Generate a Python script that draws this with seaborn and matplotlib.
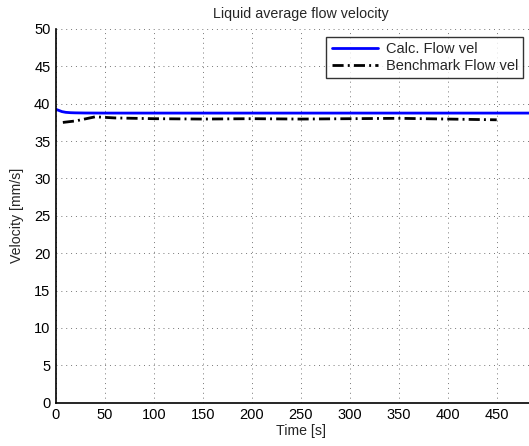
import numpy as np
import pandas as pd
import seaborn as sns
import matplotlib
matplotlib.use("Agg")
import matplotlib.pyplot as plt
from matplotlib.lines import Line2D

# Data
t_calc = [0, 3, 6, 10, 15, 20, 30, 50, 100, 150, 200, 250, 300, 350, 400, 450, 500]
v_calc = [39.25, 39.1, 38.95, 38.85, 38.8, 38.78, 38.76, 38.75, 38.75, 38.75, 38.75, 38.75, 38.75, 38.75, 38.75, 38.75, 38.75]

t_bench = [7, 20, 40, 60, 100, 150, 200, 250, 300, 350, 400, 450]
v_bench = [37.5, 37.7, 38.25, 38.1, 38.0, 37.95, 38.0, 37.95, 38.0, 38.05, 37.95, 37.85]

series_names = ["Calc. Flow vel", "Benchmark Flow vel"]
title = "Liquid average flow velocity"
xlabel = "Time [s]"
ylabel = "Velocity [mm/s]"
xticks = [0, 50, 100, 150, 200, 250, 300, 350, 400, 450]
yticks = [0, 5, 10, 15, 20, 25, 30, 35, 40, 45, 50]

df = pd.concat([
    pd.DataFrame({"t": t_calc, "v": v_calc, "series": series_names[0]}),
    pd.DataFrame({"t": t_bench, "v": v_bench, "series": series_names[1]}),
])

sns.set_style("white")
plt.rcParams["font.family"] = ["Liberation Sans", "DejaVu Sans"]
FS = 10.5
plt.rcParams["font.size"] = FS

DASH = (4, 1.5, 0.7, 1.5)

W, H = 529, 446
fig = plt.figure(figsize=(W / 100, H / 100), dpi=100)
x0, x450 = 56, 496.7
ppu = (x450 - x0) / 450
xmax = 500
ax_w = xmax * ppu
y_bot, y_top = 402.7, 29
ax = fig.add_axes([x0 / W, 1 - y_bot / H, ax_w / W, (y_bot - y_top) / H])

sns.lineplot(data=df, x="t", y="v", hue="series", style="series",
             palette={series_names[0]: "#0000ff", series_names[1]: "black"},
             dashes={series_names[0]: "", series_names[1]: DASH},
             linewidth=2, ax=ax, legend=False, sort=False, estimator=None)

ax.set_xlim(0, xmax)
ax.set_ylim(0, 50)
ax.set_xticks(xticks)
ax.set_yticks(yticks)
ax.grid(True, linestyle=(0, (1, 4)), color="#777777", linewidth=0.7)
ax.tick_params(direction="in", length=3, width=0.8, colors="black", labelsize=FS, pad=4)
for s in ["top", "right"]:
    ax.spines[s].set_visible(False)
for s in ["left", "bottom"]:
    ax.spines[s].set_color("black")
    ax.spines[s].set_linewidth(1.2)
ax.set_title(title, fontsize=FS - 0.2, pad=8)
ax.set_xlabel(xlabel, fontsize=FS - 0.3, labelpad=1)
ax.set_ylabel(ylabel, fontsize=FS - 0.3, labelpad=7)

handles = [Line2D([], [], color="#0000ff", lw=2),
           Line2D([], [], color="black", lw=2, dashes=DASH)]
leg = ax.legend(handles, series_names, loc="upper right",
                bbox_to_anchor=(523 / W, 1 - 36.7 / H), bbox_transform=fig.transFigure,
                borderaxespad=0, frameon=True, fancybox=False, fontsize=FS,
                handlelength=3.2, handletextpad=0.5, borderpad=0.35, labelspacing=0.2)
leg.get_frame().set_edgecolor("black")
leg.get_frame().set_linewidth(1.0)

fig.savefig("out.png", dpi=100)
